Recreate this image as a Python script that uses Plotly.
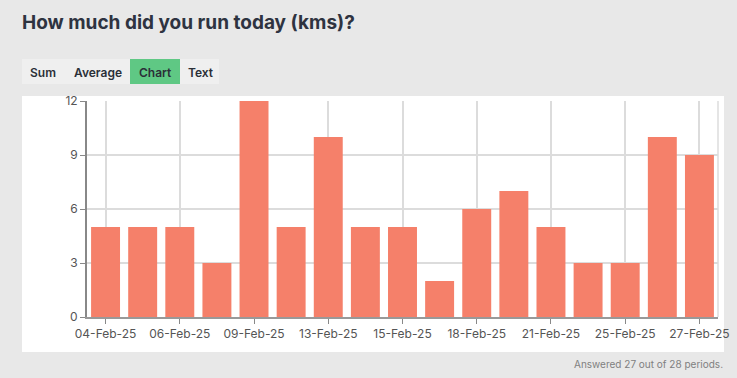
import plotly.graph_objects as go

dates = ["04-Feb-25", "05-Feb-25", "06-Feb-25", "07-Feb-25", "09-Feb-25", "11-Feb-25",
         "13-Feb-25", "14-Feb-25", "15-Feb-25", "17-Feb-25", "18-Feb-25", "20-Feb-25",
         "21-Feb-25", "24-Feb-25", "25-Feb-25", "26-Feb-25", "27-Feb-25"]
kms = [5, 5, 5, 3, 12, 5, 10, 5, 5, 2, 6, 7, 5, 3, 3, 10, 9]
shown_ticks = dates[::2]
y_ticks = [0, 3, 6, 9, 12]

W, H = 737, 378
L, R, T, B = 87, 718, 101, 317

def px(x):
    return (x - L) / (R - L)

def py(y):
    return (B - y) / (B - T)

fig = go.Figure(go.Bar(x=dates, y=kms, marker_color="#f5806a", marker_line_width=0))

shapes = [
    dict(type="rect", xref="paper", yref="paper", x0=px(22), x1=px(724), y0=py(352), y1=py(96),
         fillcolor="white", line_width=0, layer="below"),
    dict(type="rect", xref="paper", yref="paper", x0=px(22), x1=px(219), y0=py(84), y1=py(59),
         fillcolor="#efefef", line_width=0, layer="below"),
    dict(type="rect", xref="paper", yref="paper", x0=px(130), x1=px(180), y0=py(84), y1=py(59),
         fillcolor="#5fc884", line_width=0, layer="below"),
    dict(type="line", xref="paper", yref="paper", x0=1, x1=1, y0=0, y1=1,
         line=dict(color="#dcdcdc", width=1.5), layer="below"),
]

annotations = []
for label, cx in [("Sum", 43), ("Average", 97.5), ("Chart", 155), ("Text", 201)]:
    annotations.append(dict(text=label, x=px(cx), y=py(72), xref="paper", yref="paper",
                            showarrow=False, xanchor="center", yanchor="middle",
                            font=dict(family="Inter, sans-serif", size=12, color="#2b2f38", weight=600)))
annotations.append(dict(text="Answered 27 out of 28 periods.", x=px(725), y=py(364),
                        xref="paper", yref="paper", showarrow=False, xanchor="right", yanchor="middle",
                        font=dict(family="Inter, sans-serif", size=10, color="#808080")))

fig.update_layout(
    width=W, height=H, autosize=False,
    margin=dict(l=L, r=W - R, t=T, b=H - B, autoexpand=False),
    paper_bgcolor="#e8e8e8",
    plot_bgcolor="white",
    bargap=0.22,
    showlegend=False,
    title=dict(text="<b>How much did you run today (kms)?</b>", x=22 / W, xanchor="left",
               y=1 - 22 / H, yanchor="middle",
               font=dict(family="Inter, sans-serif", size=19, color="#2e3340")),
    shapes=shapes,
    annotations=annotations,
    xaxis=dict(type="category", range=[-0.5, len(dates) - 0.5], tickmode="array",
               tickvals=shown_ticks, ticktext=shown_ticks, showgrid=True, gridcolor="#dcdcdc",
               gridwidth=1.5, ticks="outside", ticklen=5, tickcolor="#888", tickwidth=1,
               showline=True, linecolor="#999", linewidth=1.5, automargin=False,
               tickfont=dict(family="Inter, sans-serif", size=12, color="#555")),
    yaxis=dict(range=[0, 12], tickmode="array", tickvals=y_ticks, showgrid=True,
               gridcolor="#dcdcdc", gridwidth=1.5, zeroline=False, ticks="outside", ticklen=5,
               tickcolor="#888", showline=True, linecolor="#888", linewidth=2, automargin=False,
               tickfont=dict(family="Inter, sans-serif", size=12, color="#555")),
)

fig.write_html("out.html", config={"displayModeBar": False},
               post_script="document.body.style.margin='0';document.body.style.overflow='hidden';"
                           "document.body.style.background='#e8e8e8';")
